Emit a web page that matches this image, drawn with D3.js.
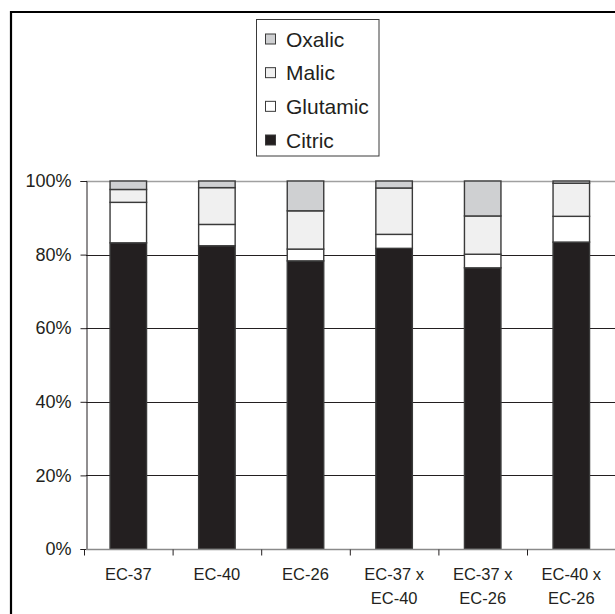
<!DOCTYPE html>
<html><head><meta charset="utf-8">
<script src="https://cdn.jsdelivr.net/npm/d3@7"></script>
<style>html,body{margin:0;padding:0;background:#fff;}svg{display:block;}</style>
</head><body>
<svg id="chart" width="615" height="614"></svg>
<script>
const categories = [["EC-37"],["EC-40"],["EC-26"],["EC-37 x","EC-40"],["EC-37 x","EC-26"],["EC-40 x","EC-26"]];
const seriesNames = ["Citric","Glutamic","Malic","Oxalic"];
const citric   = [83.2, 82.4, 78.3, 81.7, 76.4, 83.4];
const glutamic = [11.0,  5.8,  3.2,  3.8,  3.7,  7.0];
const malic    = [ 3.5, 10.0, 10.4, 12.6, 10.4,  9.0];
const oxalic   = [ 2.3,  1.8,  8.1,  1.9,  9.5,  0.6];
const yTicks = [0, 20, 40, 60, 80, 100];
const colors = {Citric:"#231f20", Glutamic:"#ffffff", Malic:"#f0f0f0", Oxalic:"#cfd0d2"};

const svg = d3.select("#chart");
const font = "Liberation Sans, Arial, sans-serif";

// outer frame (top & left visible)
svg.append("path").attr("d","M11,614 V12 H615").attr("fill","none").attr("stroke","#000").attr("stroke-width",2.2);

const keys = categories.map(c => c.join(" "));
const table = keys.map((k,i) => ({key:k, Citric:citric[i], Glutamic:glutamic[i], Malic:malic[i], Oxalic:oxalic[i]}));

const x = d3.scaleBand().domain(keys).range([84, 615.6]).padding(0);
const y = d3.scaleLinear().domain([0,100]).range([549, 181]);
const barFrac = 0.412;

// gridlines
svg.append("g").selectAll("line").data(yTicks.filter(t => t > 0)).join("line")
  .attr("x1", 86).attr("x2", 615)
  .attr("y1", d => Math.round(y(d)) + 0.5).attr("y2", d => Math.round(y(d)) + 0.5)
  .attr("stroke", d => d === 100 ? "#a0a0a0" : "#231f20")
  .attr("stroke-width", d => d === 100 ? 1.6 : 1);

// stacked bars
const stack = d3.stack().keys(seriesNames)(table);
const bw = x.bandwidth() * barFrac;
svg.append("g").selectAll("g").data(stack).join("g")
  .attr("fill", d => colors[d.key])
  .selectAll("rect").data(d => d).join("rect")
  .attr("x", d => x(d.data.key) + (x.bandwidth() - bw) / 2)
  .attr("width", bw)
  .attr("y", d => y(d[1]))
  .attr("height", d => y(d[0]) - y(d[1]))
  .attr("stroke", "#3a3a3a").attr("stroke-width", 1.4);

// y axis
const yAxis = svg.append("g").attr("transform","translate(86.5,0)")
  .call(d3.axisLeft(y).tickValues(yTicks).tickFormat(d => d + "%").tickSize(6).tickPadding(9));
yAxis.select(".domain").attr("stroke","#231f20");
yAxis.selectAll(".tick line").attr("stroke","#231f20");
yAxis.selectAll(".tick text").attr("font-family", font).attr("font-size", 18).attr("fill","#231f20");

// x axis
const xAxisG = svg.append("g").attr("transform","translate(0,549.5)");
xAxisG.append("line").attr("x1",86).attr("x2",615).attr("y1",0).attr("y2",0).attr("stroke","#8a8a8a").attr("stroke-width",1.4);
const tickPos = keys.map(k => x(k));
xAxisG.selectAll("line.tk").data(tickPos).join("line").attr("class","tk")
  .attr("x1", d => d + 0.5).attr("x2", d => d + 0.5).attr("y1",0).attr("y2",6).attr("stroke","#231f20");
const xl = xAxisG.selectAll("text").data(categories).join("text")
  .attr("font-family", font).attr("font-size", 16.5).attr("fill","#231f20")
  .attr("text-anchor","middle")
  .attr("transform", (d,i) => `translate(${x(keys[i]) + x.bandwidth()/2},0)`);
xl.selectAll("tspan").data(d => d).join("tspan")
  .attr("x", 0).attr("y", (d,i) => 30 + i * 24).text(d => d);

// legend
const lg = svg.append("g");
lg.append("rect").attr("x",256.5).attr("y",19.5).attr("width",122.5).attr("height",136.5)
  .attr("fill","#fff").attr("stroke","#3a3a3a").attr("stroke-width",1);
const legendOrder = ["Oxalic","Malic","Glutamic","Citric"];
const ly = d3.scalePoint().domain(legendOrder).range([39, 140]);
const li = lg.selectAll("g.li").data(legendOrder).join("g").attr("class","li")
  .attr("transform", d => `translate(0,${ly(d)})`);
li.append("rect").attr("x",265.5).attr("y",-5).attr("width",10).attr("height",10)
  .attr("fill", d => colors[d]).attr("stroke","#3a3a3a").attr("stroke-width",1);
li.append("text").attr("x",286).attr("y",0).attr("dy","0.36em")
  .attr("font-family", font).attr("font-size", 21).attr("fill","#231f20").text(d => d);
</script>
</body></html>
